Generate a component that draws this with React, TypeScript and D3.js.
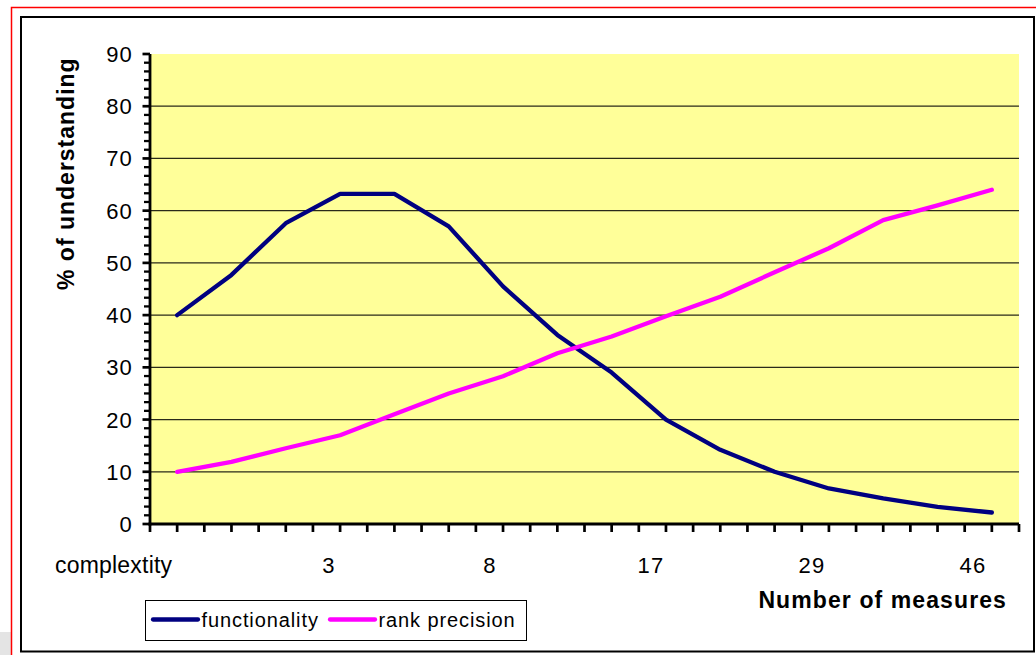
import React from "react";
import * as d3 from "d3";

const categories = ["c1","c2","c3","c4","c5","c6","c7","c8","c9","c10","c11","c12","c13","c14","c15","c16"];
const functionality = [40, 47.7, 57.6, 63.2, 63.2, 57.0, 45.5, 36.2, 29.0, 20.0, 14.2, 10.0, 6.8, 4.9, 3.3, 2.2];
const rankPrecision = [10, 11.9, 14.5, 17.0, 21.0, 25.0, 28.3, 32.7, 35.9, 39.8, 43.5, 48.2, 52.8, 58.2, 61.0, 64.0];
const yTicks = [0, 10, 20, 30, 40, 50, 60, 70, 80, 90];
const xLabels = ["complextity", "3", "8", "17", "29", "46"];
const seriesNames = ["functionality", "rank precision"];
const seriesColors = ["#000080", "#FF00FF"];

const W = 1036, H = 655;
const plot = { left: 150, right: 1019, top: 54, bottom: 524 };
const FONT = "Liberation Sans, Arial, Helvetica, sans-serif";

export default function App() {
  const x = d3.scalePoint<string>().domain(categories).range([plot.left, plot.right]).padding(0.5);
  const y = d3.scaleLinear().domain([0, 90]).range([plot.bottom, plot.top]);
  const step = x.step();
  const half: number[] = [];
  for (let i = 0; i <= categories.length * 2; i++) half.push(plot.left + (i * step) / 2);
  const minor: number[] = [];
  for (let i = 0; i < yTicks.length - 1; i++) {
    for (let k = 1; k < 6; k++) minor.push(yTicks[i] + (k * (yTicks[i + 1] - yTicks[i])) / 6);
  }
  const line = d3.line<number>().x((_, i) => x(categories[i]) as number).y((d) => y(d));
  const lx = d3.scaleLinear().domain([1, 5]).range([329, 973]);
  const series = [functionality, rankPrecision];

  return (
    <svg width={W} height={H} style={{ position: "absolute", left: 0, top: 0, display: "block" }} fontFamily={FONT}>
      <rect x={0} y={0} width={W} height={H} fill="#fff" />
      <rect x={0} y={632} width={11} height={23} fill="#e4e4e4" />
      <rect x={11.5} y={7.5} width={1040} height={660} fill="none" stroke="#ff0000" strokeWidth={1.5} />
      <rect x={21} y={17} width={1013} height={634.5} fill="#fff" stroke="#000" strokeWidth={2} />
      <rect x={plot.left} y={plot.top} width={plot.right - plot.left} height={plot.bottom - plot.top} fill="#FFFF99" />
      {yTicks.filter((t) => t > 0 && t < 90).map((t) => (
        <line key={"g" + t} x1={plot.left} x2={plot.right} y1={y(t)} y2={y(t)} stroke="#2a2a1a" strokeWidth={1.2} />
      ))}
      {series.map((s, i) => (
        <path key={"s" + i} d={line(s) as string} fill="none" stroke={seriesColors[i]} strokeWidth={4.3} strokeLinejoin="round" strokeLinecap="round" />
      ))}
      {/* y axis */}
      <line x1={plot.left} x2={plot.left} y1={plot.top} y2={plot.bottom + 1.5} stroke="#000" strokeWidth={2.8} />
      {yTicks.map((t) => (
        <line key={"yt" + t} x1={plot.left - 7.5} x2={plot.left} y1={y(t)} y2={y(t)} stroke="#000" strokeWidth={2.7} />
      ))}
      {minor.map((t, i) => (
        <line key={"ym" + i} x1={plot.left - 6} x2={plot.left} y1={y(t)} y2={y(t)} stroke="#000" strokeWidth={2.3} />
      ))}
      {yTicks.map((t) => (
        <text key={"yl" + t} x={133} y={y(t) + 8} textAnchor="end" fontSize={22} style={{ letterSpacing: "1.2px" }} fill="#000">{t}</text>
      ))}
      {/* x axis */}
      <line x1={plot.left - 1.5} x2={plot.right} y1={plot.bottom} y2={plot.bottom} stroke="#000" strokeWidth={3.2} />
      {half.map((hx, i) => (
        <line key={"xt" + i} x1={hx} x2={hx} y1={plot.bottom} y2={plot.bottom + 8} stroke="#000" strokeWidth={2.7} />
      ))}
      {xLabels.map((l, i) =>
        i === 0 ? (
          <text key={"xl" + i} x={55} y={573} fontSize={23} fill="#000" style={{ letterSpacing: "0.2px" }}>{l}</text>
        ) : (
          <text key={"xl" + i} x={lx(i)} y={573} fontSize={22} textAnchor="middle" style={{ letterSpacing: "1.2px" }} fill="#000">{l}</text>
        )
      )}
      <text x={1007} y={608} textAnchor="end" fontSize={23} fontWeight="bold" style={{ letterSpacing: "1.1px" }} fill="#000">Number of measures</text>
      <text transform="translate(74,290) rotate(-90)" x={0} y={0} textAnchor="start" fontSize={23} fontWeight="bold" style={{ letterSpacing: "1.0px" }} fill="#000">% of understanding</text>
      {/* legend */}
      <rect x={145.5} y={600.5} width={381} height={40} fill="#fff" stroke="#000" strokeWidth={1} />
      {seriesNames.map((n, i) => {
        const lx0 = i === 0 ? 153 : 330;
        return (
          <g key={"lg" + i}>
            <line x1={lx0} x2={lx0 + 45} y1={619.5} y2={619.5} stroke={seriesColors[i]} strokeWidth={4.3} strokeLinecap="round" />
            <text x={lx0 + 48.5} y={626.5} fontSize={20} style={{ letterSpacing: "0.9px" }} fill="#000">{n}</text>
          </g>
        );
      })}
    </svg>
  );
}
